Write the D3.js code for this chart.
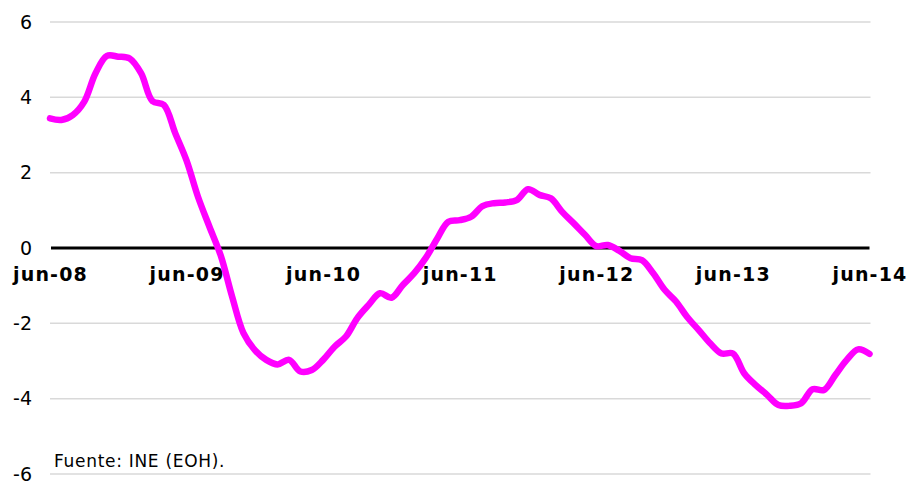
<!DOCTYPE html>
<html>
<head>
<meta charset="utf-8">
<script src="https://cdn.jsdelivr.net/npm/d3@7"></script>
<style>
  body { margin: 0; background: #fff; }
  svg { display: block; }
</style>
</head>
<body>
<svg id="chart" width="911" height="481"></svg>
<script>
// monthly series, jun-08 .. jun-14
const values = [
  3.44, 3.40, 3.53, 3.88, 4.64, 5.10, 5.08, 5.03, 4.64, 3.90, 3.80, 3.05,
  2.32, 1.36, 0.57, -0.20, -1.29, -2.26, -2.71, -2.97, -3.09, -2.97, -3.28, -3.24,
  -2.97, -2.62, -2.35, -1.86, -1.51, -1.20, -1.32, -0.98, -0.67, -0.27, 0.24, 0.70,
  0.74, 0.83, 1.11, 1.19, 1.21, 1.27, 1.56, 1.41, 1.32, 0.96, 0.66, 0.35,
  0.05, 0.08, -0.07, -0.27, -0.32, -0.67, -1.11, -1.42, -1.84, -2.18, -2.53, -2.80,
  -2.80, -3.33, -3.64, -3.90, -4.17, -4.19, -4.12, -3.75, -3.77, -3.37, -2.97, -2.69,
  -2.81
];
const xTickLabels = ["jun-08", "jun-09", "jun-10", "jun-11", "jun-12", "jun-13", "jun-14"];
const yTicks = [6, 4, 2, 0, -2, -4, -6];
const source = "Fuente: INE (EOH).";

const svg = d3.select('#chart');
const plotLeft = 50, plotRight = 869.5, plotTop = 22, plotBottom = 474;

const x = d3.scaleLinear().domain([0, values.length - 1]).range([plotLeft, plotRight]);
const y = d3.scaleLinear().domain([-6, 6]).range([plotBottom, plotTop]);

// gridlines
svg.append('g')
  .selectAll('line')
  .data(yTicks.filter(d => d !== 0))
  .join('line')
  .attr('x1', plotLeft).attr('x2', plotRight + 1)
  .attr('y1', d => y(d)).attr('y2', d => y(d))
  .attr('stroke', '#d9d9d9')
  .attr('stroke-width', 1.5);

// y labels (plain hyphen for negatives, like the original)
const yAxis = d3.axisLeft(y).tickValues(yTicks).tickFormat(d => String(d)).tickSize(0).tickPadding(18);
const gy = svg.append('g').attr('transform', `translate(${plotLeft},0)`).call(yAxis);
gy.select('.domain').remove();
gy.selectAll('text')
  .attr('font-family', 'DejaVu Sans, Verdana, sans-serif')
  .attr('font-size', 19)
  .attr('fill', '#000');

// zero line
svg.append('line')
  .attr('x1', plotLeft + 1).attr('x2', plotRight)
  .attr('y1', y(0)).attr('y2', y(0))
  .attr('stroke', '#000')
  .attr('stroke-width', 3);

// x labels (every 12 months)
const xAxis = d3.axisBottom(x)
  .tickValues(xTickLabels.map((d, i) => i * 12))
  .tickFormat((d, i) => xTickLabels[i])
  .tickSize(0).tickPadding(0);
const gx = svg.append('g').attr('transform', `translate(0,${y(0)})`).call(xAxis);
gx.select('.domain').remove();
gx.selectAll('text')
  .attr('dy', null)
  .attr('y', 33)
  .attr('font-family', 'DejaVu Sans, Verdana, sans-serif')
  .attr('font-weight', 'bold')
  .attr('font-size', 19)
  .attr('letter-spacing', 1.2)
  .attr('fill', '#000');

// series
const line = d3.line()
  .x((d, i) => x(i))
  .y(d => y(d))
  .curve(d3.curveCatmullRom.alpha(0.5));

svg.append('path')
  .datum(values)
  .attr('d', line)
  .attr('fill', 'none')
  .attr('stroke', '#ff00ff')
  .attr('stroke-width', 6.5)
  .attr('stroke-linejoin', 'round')
  .attr('stroke-linecap', 'round');

// source note
svg.append('text')
  .attr('x', 54).attr('y', 467)
  .attr('font-family', 'DejaVu Sans, Verdana, sans-serif')
  .attr('font-size', 17)
  .attr('letter-spacing', 0.7)
  .attr('fill', '#000')
  .text(source);
</script>
</body>
</html>
